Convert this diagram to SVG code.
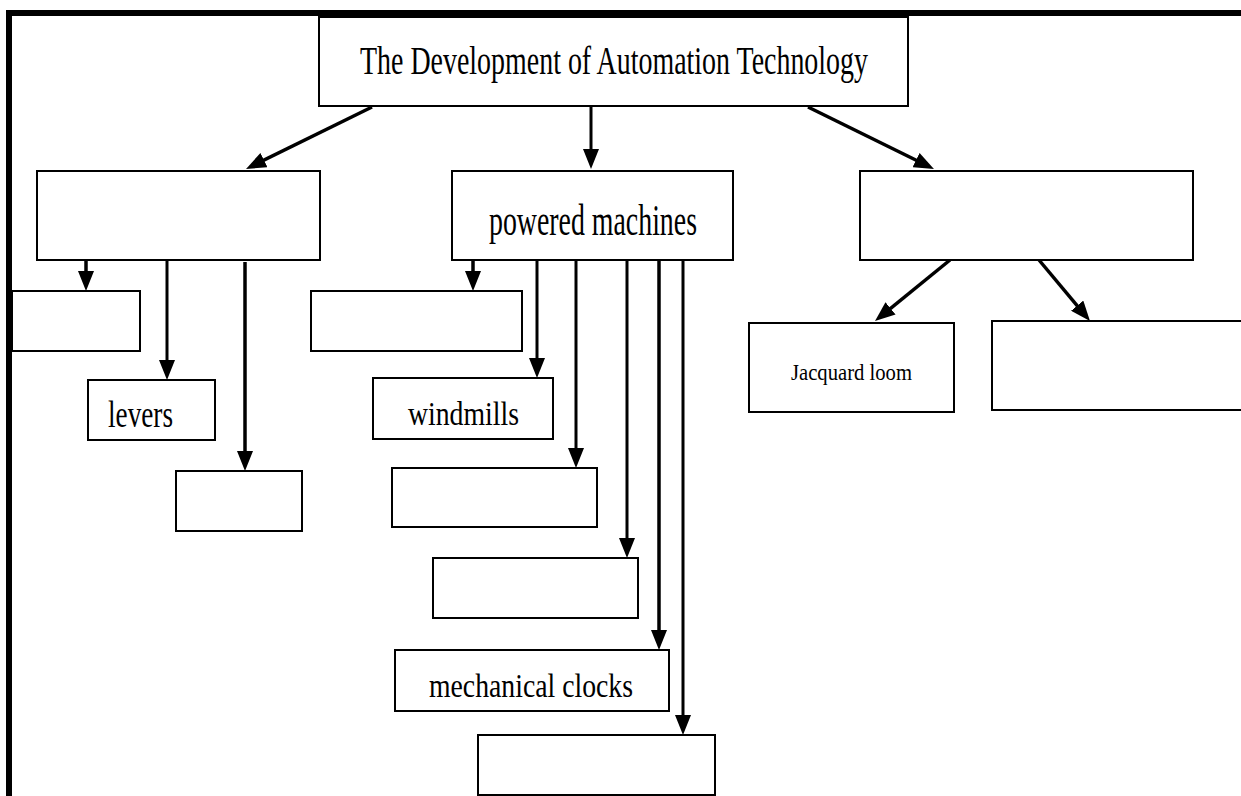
<svg xmlns="http://www.w3.org/2000/svg" width="1241" height="796" viewBox="0 0 1241 796">
<style>
.box{fill:#fff;stroke:#000;stroke-width:2}
.lbl{font-family:"Liberation Serif","Times New Roman",serif;fill:#000}
.con{stroke:#000;stroke-width:3;fill:none;marker-end:url(#ah)}
.thick{stroke-width:3.5}
</style>
<defs>
<marker id="ah" markerUnits="userSpaceOnUse" markerWidth="20" markerHeight="16" refX="11" refY="8" orient="auto">
<path d="M0,0 L20,8 L0,16 z" fill="#000"/>
</marker>
</defs>
<rect width="1241" height="796" fill="#fff"/>
<path d="M9,796 L9,13 L1241,13" fill="none" stroke="#000" stroke-width="6"/>
<g id="connectors">
<line class="con thick" x1="372" y1="107" x2="254.1" y2="165"/>
<line class="con" x1="591" y1="107" x2="591" y2="160"/>
<line class="con thick" x1="808" y1="107" x2="925.9" y2="165"/>
<line class="con thick" x1="86" y1="260" x2="86" y2="282"/>
<line class="con" x1="167" y1="260" x2="167" y2="371"/>
<line class="con thick" x1="245" y1="262" x2="245" y2="462"/>
<line class="con thick" x1="473" y1="260" x2="473" y2="282"/>
<line class="con" x1="537" y1="260" x2="537" y2="369"/>
<line class="con" x1="576" y1="260" x2="576" y2="459"/>
<line class="con" x1="627" y1="260" x2="627" y2="549"/>
<line class="con thick" x1="659" y1="260" x2="659" y2="641"/>
<line class="con" x1="683" y1="260" x2="683" y2="726"/>
<line class="con thick" x1="950" y1="260" x2="882" y2="315.3"/>
<line class="con thick" x1="1039" y1="260" x2="1084.2" y2="314.1"/>
</g>
<g id="root"><rect class="box" x="319" y="17" width="589" height="89"/><text class="lbl" x="360" y="74" font-size="39" textLength="508" lengthAdjust="spacingAndGlyphs">The Development of Automation Technology</text></g>
<g id="cat1"><rect class="box" x="37" y="171" width="283" height="89"/></g>
<g id="cat2"><rect class="box" x="452" y="171" width="281" height="89"/><text class="lbl" x="489" y="235" font-size="44" textLength="208" lengthAdjust="spacingAndGlyphs">powered machines</text></g>
<g id="cat3"><rect class="box" x="860" y="171" width="333" height="89"/></g>
<g id="a1"><rect class="box" x="12" y="291" width="128" height="60"/></g>
<g id="levers"><rect class="box" x="88" y="380" width="127" height="60"/><text class="lbl" x="108" y="427" font-size="37" textLength="65" lengthAdjust="spacingAndGlyphs">levers</text></g>
<g id="a3"><rect class="box" x="176" y="471" width="126" height="60"/></g>
<g id="b1"><rect class="box" x="311" y="291" width="211" height="60"/></g>
<g id="windmills"><rect class="box" x="373" y="378" width="180" height="61"/><text class="lbl" x="408" y="425" font-size="33" textLength="111" lengthAdjust="spacingAndGlyphs">windmills</text></g>
<g id="b3"><rect class="box" x="392" y="468" width="205" height="59"/></g>
<g id="b4"><rect class="box" x="433" y="558" width="205" height="60"/></g>
<g id="clocks"><rect class="box" x="395" y="650" width="274" height="61"/><text class="lbl" x="429" y="697" font-size="33" textLength="204" lengthAdjust="spacingAndGlyphs">mechanical clocks</text></g>
<g id="b6"><rect class="box" x="478" y="735" width="237" height="60"/></g>
<g id="jacquard"><rect class="box" x="749" y="323" width="205" height="89"/><text class="lbl" x="791" y="380" font-size="23" textLength="121" lengthAdjust="spacingAndGlyphs">Jacquard loom</text></g>
<g id="c2"><rect class="box" x="992" y="321" width="260" height="89"/></g>
</svg>
